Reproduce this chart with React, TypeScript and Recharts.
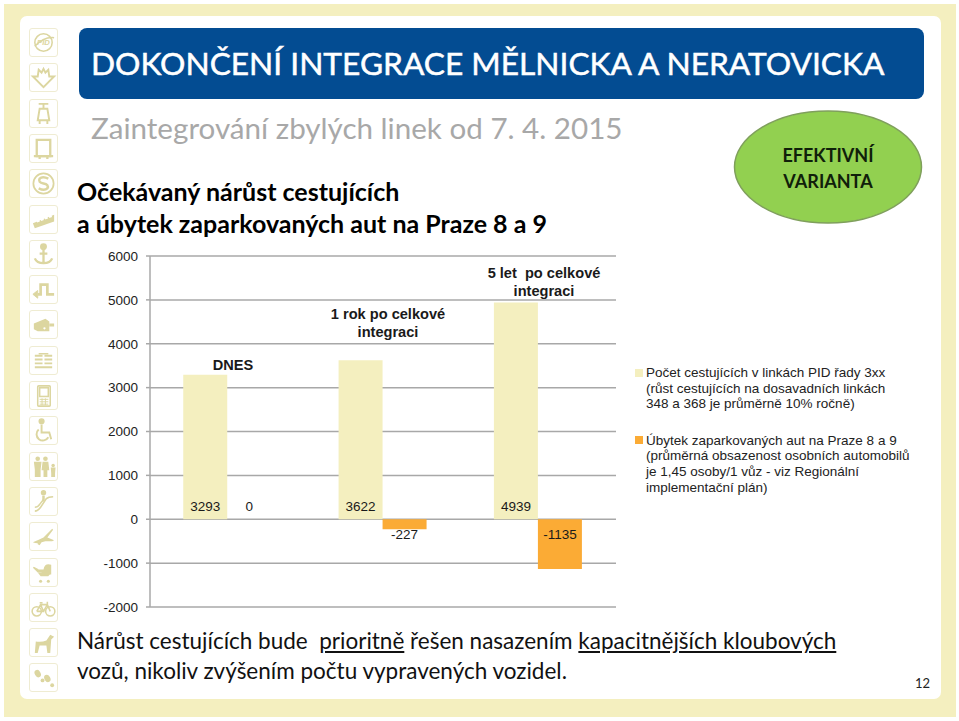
import React from 'react';
import { BarChart, Bar, XAxis, YAxis, CartesianGrid, Legend, LabelList } from 'recharts';

const categories = ['DNES', '1 rok po celkové integraci', '5 let po celkové integraci'];
const passengers = [3293, 3622, 4939];
const parkedCars = [0, -227, -1135];
const yTicks = [-2000, -1000, 0, 1000, 2000, 3000, 4000, 5000, 6000];

const passengersName = 'Počet cestujících v linkách PID řady 3xx\n(růst cestujících na dosavadních linkách\n348 a 368 je průměrně 10% ročně)';
const parkedCarsName = 'Úbytek zaparkovaných aut na Praze 8 a 9\n(průměrná obsazenost osobních automobilů\nje 1,45 osoby/1 vůz - viz Regionální\nimplementační plán)';

const chartData = categories.map((name, i) => ({ name, passengers: passengers[i], parkedCars: parkedCars[i] }));

const CREAM = '#f4efbf';
const ORANGE = '#fbab35';
const ICON = '#dcd6a0';
const SANS = '"Liberation Sans", Arial, sans-serif';
const HEAD = 'Lato, sans-serif';

// little pictograms of the side strip, 28x28 each
const icons: React.ReactNode[] = [
  <g fill="none" stroke={ICON} strokeWidth="1.6"><ellipse cx="14" cy="14" rx="9" ry="9" /><path d="M5 18 Q14 8 25 9" /><text x="14" y="17" fontSize="8" fontStyle="italic" fontWeight="700" textAnchor="middle" fill={ICON} stroke="none" fontFamily={SANS}>PID</text></g>,
  <path d="M9 6 L12 9 L14 5 L16 9 L19 6 L20 13 L25 13 L14 24 L3 13 L8 13 Z" fill="none" stroke={ICON} strokeWidth="2" />,
  <g fill="none" stroke={ICON} strokeWidth="2"><path d="M9 4 H19 M14 4 V9" /><path d="M10 9 H18 L20 21 H8 Z" /><path d="M10 21 V25 M18 21 V25" /></g>,
  <g fill="none" stroke={ICON} strokeWidth="2.4"><path d="M7 5 H21 V22 H7 Z" /><path d="M4 22 H24" /><path d="M10 22 V25 M18 22 V25" /></g>,
  <g fill="none" stroke={ICON} strokeWidth="1.8"><circle cx="14" cy="14" r="10.5" /><path d="M19 9 Q13 6 10 9 Q8 13 14 14 Q20 15 18 19 Q15 22 9 19" strokeWidth="2.6" /></g>,
  <g><path d="M3 18 L25 9 V16 L5 23 Z" fill={ICON} /><path d="M7 16 L23 10" stroke="#fff" strokeWidth="2.5" strokeDasharray="3 1.5" /></g>,
  <g fill="none" stroke={ICON} strokeWidth="2.4"><circle cx="14" cy="6" r="2.4" fill={ICON} /><path d="M14 8 V23 M5 18 Q7 23 14 23 Q21 23 23 18" /><path d="M10 13 H18" /></g>,
  <g fill="none" stroke={ICON} strokeWidth="2.8"><path d="M8 19 H11 V9 H18 V19 H25" /><path d="M8 15 L3 19 L8 23 Z" fill={ICON} strokeWidth="1" /></g>,
  <g fill={ICON}><path d="M4 13 L16 8 L20 11 V21 H8 L4 19 Z" /><path d="M20 13 H25 V16 H20 Z" /><circle cx="15" cy="18" r="1.2" fill="#fff" /></g>,
  <g stroke={ICON} strokeWidth="2"><path d="M5 9 H13 M15 9 H23 M5 13 H13 M15 13 H23 M5 17 H13 M15 17 H23 M5 21 H23" /><path d="M9 7 H19" strokeWidth="1.4" /></g>,
  <g fill="none" stroke={ICON} strokeWidth="1.6"><rect x="8" y="4" width="13" height="21" rx="1" /><rect x="10" y="6" width="9" height="9" /><path d="M10 18 H19 M10 20.5 H19 M10 23 H19 M12.5 17 V24 M16 17 V24" strokeWidth="1" /></g>,
  <g fill="none" stroke={ICON} strokeWidth="2"><circle cx="12" cy="4.5" r="2.2" fill={ICON} /><path d="M12 8 V16 H20 L22 23" /><path d="M9 13 A6.5 6.5 0 1 0 19 21" /></g>,
  <g fill={ICON}><circle cx="8" cy="6" r="2.4" /><path d="M4 9 H12 L11 17 V25 H5 V17 Z" /><circle cx="16" cy="6" r="2.4" /><path d="M13 9 H19 L20 18 H18 V25 H14 V18 H12 Z" /><circle cx="24" cy="13" r="1.8" /><path d="M21.5 15 H26.5 L26 21 V25 H22 V21 Z" /></g>,
  <g fill="none" stroke={ICON} strokeWidth="1.6"><circle cx="14" cy="5" r="2" fill={ICON} /><path d="M14 8 V14" strokeWidth="2.6" /><path d="M5 24 Q8 24 11 20 L17 11 Q19 9 24 9" /><path d="M5 20 Q8 20 10 17 L14 12" /></g>,
  <path d="M3 20 Q10 17 14 15 L23 6 L24 7 L18 15 Q21 16 25 18 L23 19 L16 19 L12 20 L10 23 L8 22 L8 21 Q5 21 3 20 Z" fill={ICON} />,
  <g fill={ICON}><path d="M8 10 L4 8 L3 9 L8 14 H12 V16 H22 V6 Q15 4 14 11 H9 Z" /><path d="M8 14 H22 L19 18 H11 Z" /><circle cx="11" cy="23" r="1.6" /><circle cx="19" cy="23" r="1.6" /></g>,
  <g fill="none" stroke={ICON} strokeWidth="1.6"><circle cx="7" cy="18" r="4.8" /><circle cx="21" cy="18" r="4.8" /><path d="M7 18 L11 11 H18 L21 18 M11 11 L14 18 H7 M14 18 L18 11 M10 9 H13 M18 8 V11" /></g>,
  <path d="M5 25 L6 13 Q12 14 17 12 L21 6 L25 8 L22 11 L21 25 H18 L17 17 H10 L8 25 Z" fill={ICON} />,
  <g fill={ICON}><ellipse cx="8" cy="10" rx="3" ry="4" transform="rotate(-30 8 10)" /><ellipse cx="13" cy="17" rx="2" ry="2" /><ellipse cx="18" cy="15" rx="3" ry="4" transform="rotate(-30 18 15)" /><ellipse cx="23" cy="22" rx="2" ry="2" /></g>,
];

const abs = (left: number, top: number, extra: React.CSSProperties = {}): React.CSSProperties => ({
  position: 'absolute',
  left,
  top,
  whiteSpace: 'nowrap',
  ...extra,
});

const labelText = (x: number, y: number, value: number) => (
  <text x={x} y={y} dy="0.36em" textAnchor="middle" fontSize={13.5} fontFamily={SANS} fill="#1a1a1a">
    {value}
  </text>
);

// values sit just above the zero line, or under it for the negative bars
const ValueLabel = (props: any) => {
  const { x, y, width, height, value } = props;
  const low = Math.max(y, y + height);
  const high = Math.min(y, y + height);
  return labelText(x + width / 2, value >= 0 ? low - 13.5 : high + 15, value);
};

// a zero bar has no rectangle and gets no label of its own, so its neighbour draws it
const PassengerLabel = (props: any) => {
  const { x, y, width, height, index } = props;
  return (
    <g>
      <ValueLabel {...props} />
      {parkedCars[index] === 0 && labelText(x + width * 1.5, y + height - 13.5, parkedCars[index])}
    </g>
  );
};

const LegendBlock = ({ payload }: any) => (
  <div style={{ fontFamily: SANS, fontSize: 13.5, lineHeight: '15.6px', color: '#222' }}>
    {(payload || []).map((entry: any, i: number) => (
      <div key={i} style={{ position: 'relative', paddingLeft: 11, marginBottom: 21, whiteSpace: 'pre' }}>
        <span style={{ position: 'absolute', left: 0, top: 3.5, width: 8, height: 8, background: entry.color }} />
        {entry.value}
      </div>
    ))}
  </div>
);

const categoryNote = (text: React.ReactNode, left: number, top: number) => (
  <div style={abs(left, top, { width: 160, textAlign: 'center', fontFamily: SANS, fontWeight: 700, fontSize: 14.6, lineHeight: '18px', color: '#1a1a1a', whiteSpace: 'normal' })}>
    {text}
  </div>
);

export default function App() {
  return (
    <div style={{ position: 'absolute', left: 0, top: 0, width: 959, height: 721, background: '#fff', overflow: 'hidden' }}>
      {/* slide frame */}
      <div style={{ position: 'absolute', left: 4, top: 4, width: 952, height: 713, background: CREAM }} />
      <div style={{ position: 'absolute', left: 20, top: 16, width: 921, height: 683, background: '#fff', borderRadius: 7 }} />

      {/* icon strip */}
      {icons.map((icon, i) => (
        <svg key={i} width={29} height={29} viewBox="0 0 28 28" style={{ position: 'absolute', left: 29, top: 28 + i * 35.3, border: '1px solid #efecd2', borderRadius: 3, boxSizing: 'border-box' }}>
          {icon}
        </svg>
      ))}

      {/* header */}
      <div style={{ position: 'absolute', left: 78.5, top: 28, width: 845.5, height: 71, background: '#034c92', borderRadius: 8 }} />
      <div style={abs(91, 42, { fontFamily: HEAD, fontSize: 31.7, lineHeight: '42px', color: '#fff', WebkitTextStroke: '0.5px #fff' })}>
        DOKONČENÍ INTEGRACE MĚLNICKA A NERATOVICKA
      </div>
      <div style={abs(91, 108, { fontFamily: HEAD, fontSize: 29.6, lineHeight: '40px', color: '#a8a8a8' })}>
        Zaintegrování zbylých linek od 7. 4. 2015
      </div>
      <div style={abs(77, 175, { fontFamily: HEAD, fontWeight: 700, fontSize: 25, lineHeight: '32px', color: '#000' })}>
        Očekávaný nárůst cestujících
        <br />
        a úbytek zaparkovaných aut na Praze 8 a 9
      </div>

      {/* chart */}
      <div style={{ position: 'absolute', left: 60, top: 240 }}>
        <BarChart
          width={880}
          height={390}
          data={chartData}
          margin={{ top: 16, right: 324, bottom: 23, left: 0 }}
          barCategoryGap="21.4%"
          barGap={0}
        >
          <CartesianGrid vertical={false} stroke="#a8a8a8" strokeWidth={1.5} />
          <XAxis dataKey="name" hide />
          <YAxis
            width={90}
            domain={[-2000, 6000]}
            ticks={yTicks}
            interval={0}
            stroke="#a8a8a8"
            strokeWidth={1.5}
            tickSize={4}
            tickMargin={8}
            tick={{ fontSize: 13.5, fontFamily: SANS, fill: '#222' }}
          />
          <Legend
            content={<LegendBlock />}
            layout="vertical"
            align="center"
            verticalAlign="middle"
            wrapperStyle={{ position: 'absolute', left: 575, top: 125, width: 300, bottom: 'auto' }}
          />
          <Bar dataKey="passengers" name={passengersName} fill={CREAM} isAnimationActive={false}>
            <LabelList dataKey="passengers" content={<PassengerLabel />} />
          </Bar>
          <Bar dataKey="parkedCars" name={parkedCarsName} fill={ORANGE} isAnimationActive={false}>
            <LabelList dataKey="parkedCars" content={(props: any) => (props.value === 0 ? null : <ValueLabel {...props} />)} />
          </Bar>
        </BarChart>
      </div>

      {categoryNote(categories[0], 153, 356)}
      {categoryNote(<>1 rok po celkové<br />integraci</>, 308, 305)}
      {categoryNote(<>5 let&nbsp; po celkové<br />integraci</>, 464, 264)}

      {/* badge */}
      <svg width={192} height={118} style={{ position: 'absolute', left: 732, top: 108 }}>
        <ellipse cx={96} cy={59} rx={93.5} ry={56} fill="#92d050" stroke="#7f9f5c" strokeWidth={1.5} />
      </svg>
      <div style={abs(732, 142, { width: 192, textAlign: 'center', fontFamily: HEAD, fontWeight: 700, fontSize: 18, lineHeight: '26px', color: '#10200a' })}>
        EFEKTIVNÍ
        <br />
        VARIANTA
      </div>

      {/* footer note */}
      <div style={abs(77, 626, { fontFamily: HEAD, fontSize: 22.5, lineHeight: '29.5px', color: '#111' })}>
        Nárůst cestujících bude&nbsp; <span style={{ textDecoration: 'underline' }}>prioritně</span> řešen nasazením{' '}
        <span style={{ textDecoration: 'underline' }}>kapacitnějších kloubových</span>
        <br />
        vozů, nikoliv zvýšením počtu vypravených vozidel.
      </div>
      <div style={abs(915, 675, { fontFamily: HEAD, fontSize: 13, lineHeight: '16px', color: '#222' })}>12</div>
    </div>
  );
}
